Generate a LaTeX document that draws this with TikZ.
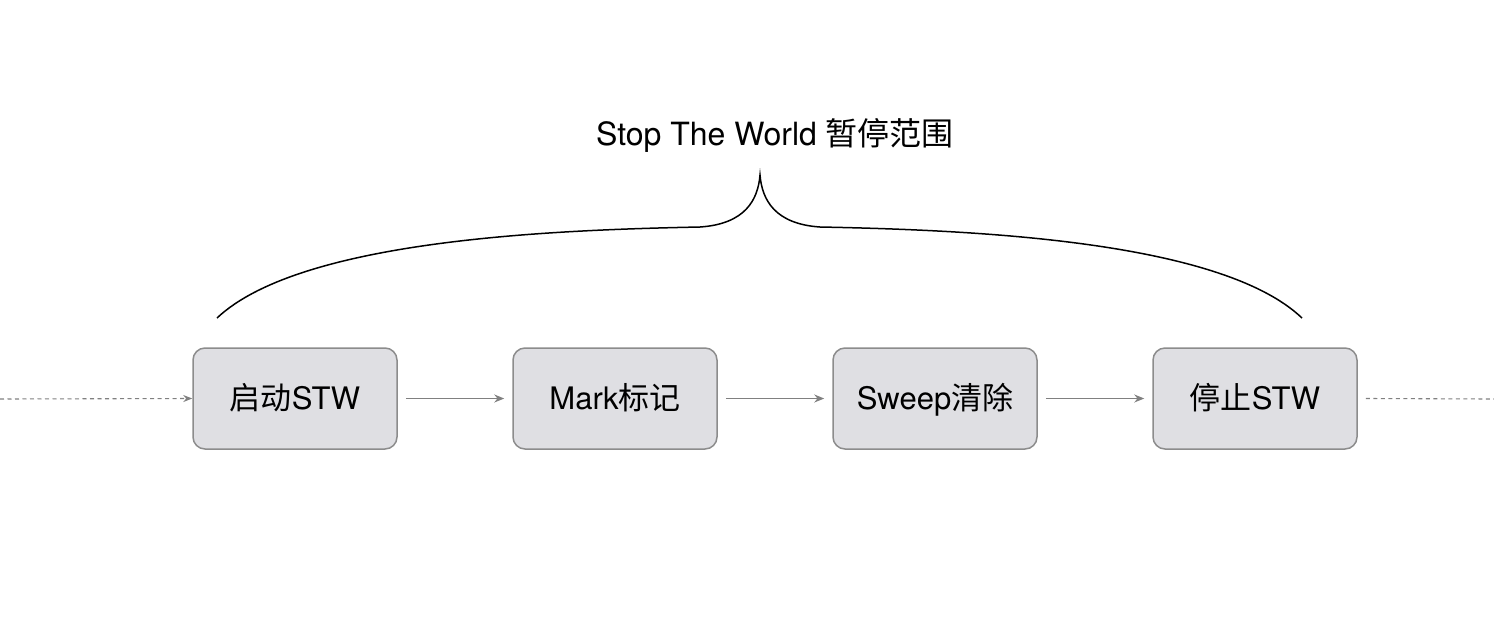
\documentclass[tikz,border=0pt]{standalone}
\usepackage{fontspec}
\setmainfont{TeX Gyre Heros}
\newfontfamily\cjk{Noto Sans CJK SC}
\usetikzlibrary{arrows.meta}
\definecolor{boxfill}{RGB}{223,223,227}
\definecolor{boxline}{RGB}{140,140,140}
\definecolor{arrowgray}{RGB}{128,128,128}
\tikzset{
  stagebox/.style={draw=boxline, line width=1.5pt, fill=boxfill, rounded corners=12pt,
    minimum width=204pt, minimum height=101pt, inner sep=0pt,
    text height=25pt, text depth=3pt,
    font=\fontsize{31}{36}\selectfont},
  flow/.style={draw=arrowgray, line width=1.3pt, -{Stealth[length=10pt,width=8pt]}},
  dashflow/.style={draw=arrowgray, line width=1.1pt, dash pattern=on 4pt off 3.5pt},
  bracecurve/.style={draw=black, line width=1.5pt}
}
\begin{document}
\begin{tikzpicture}[x=1pt,y=-1pt]
\useasboundingbox (0,0) rectangle (1494,630);
\node[stagebox] (s1) at (295,398.5) {{\cjk 启动}STW};
\node[stagebox] (s2) at (615,398.5) {Mark{\cjk 标记}};
\node[stagebox] (s3) at (935,398.5) {Sweep{\cjk 清除}};
\node[stagebox] (s4) at (1255,398.5) {{\cjk 停止}STW};
\node[font=\fontsize{32}{36}\selectfont] (title) at (775,135) {Stop The World {\cjk 暂停范围}};
\coordinate (in) at (0,399);
\coordinate (out) at (1494,399);
\draw[dashflow, -{Stealth[length=9pt,width=7pt]}] (in) -- (s1.west);
\draw[dashflow] ([xshift=8pt]s4.east) -- (out);
\draw[flow] ([xshift=8pt]s1.east) -- ([xshift=-8pt]s2.west);
\draw[flow] ([xshift=8pt]s2.east) -- ([xshift=-8pt]s3.west);
\draw[flow] ([xshift=8pt]s3.east) -- ([xshift=-8pt]s4.west);
\coordinate (bl) at (217,318);
\coordinate (bm) at (760,175);
\coordinate (br) at (1302,318);
\draw[bracecurve] (bl) .. controls (300,240) and (550,230) .. (700,227)
  .. controls (745,224) and (758,200) .. (bm)
  .. controls (762,200) and (775,224) .. (820,227)
  .. controls (970,230) and (1220,240) .. (br);
\end{tikzpicture}
\end{document}
